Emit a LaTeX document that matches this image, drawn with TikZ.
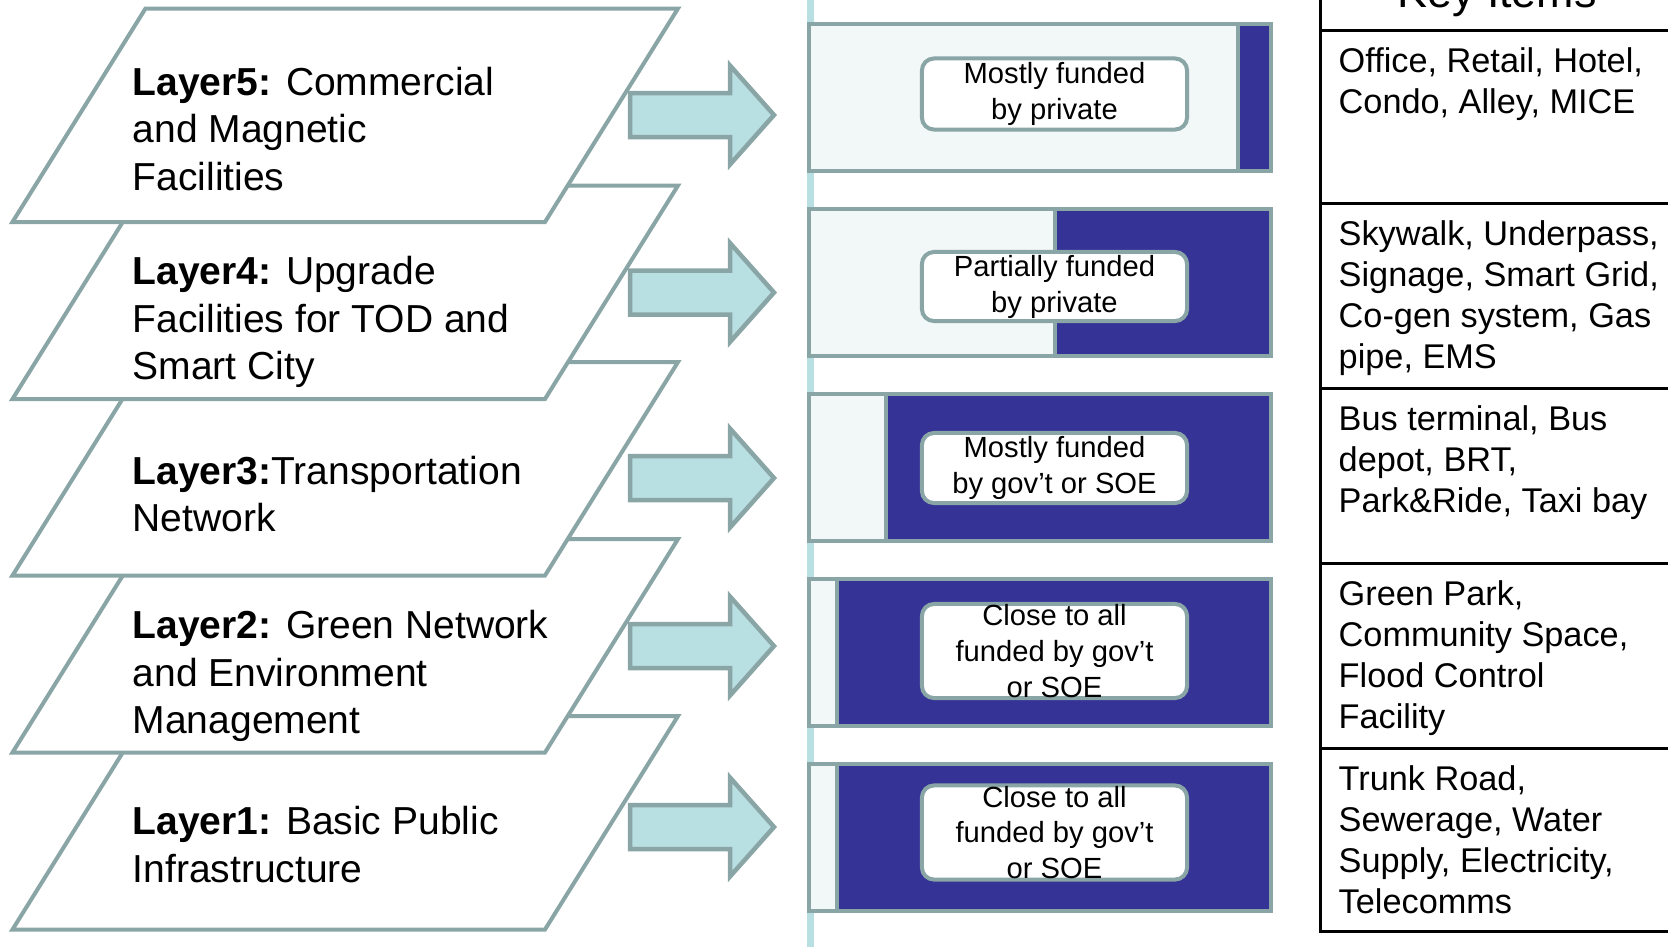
\documentclass[tikz,border=0pt]{standalone}
\usepackage{fontspec}
\setmainfont{Liberation Sans}
\definecolor{edgegray}{RGB}{138,165,166}
\definecolor{arrowcyan}{RGB}{184,223,226}
\definecolor{fundblue}{RGB}{53,51,150}
\definecolor{barpale}{RGB}{241,248,247}

\begin{document}
\begin{tikzpicture}[x=0.01cm,y=-0.01cm,
	layer/.style={draw=edgegray,line width=0.04cm,fill=white},
	layertext/.style={anchor=west,align=left,inner sep=0pt,font=\fontsize{11.1}{13.6}\selectfont},
	flow/.style={draw=edgegray,line width=0.045cm,fill=arrowcyan},
	barbox/.style={draw=edgegray,line width=0.04cm},
	fundlabel/.style={draw=edgegray,line width=0.04cm,fill=white,rounded corners=0.12cm,
		minimum width=2.65cm,inner xsep=0pt,inner ysep=-0.03cm,align=center,
		font=\fontsize{8.3}{10.2}\selectfont},
	itemtext/.style={anchor=north west,align=left,inner sep=0pt,font=\fontsize{9.75}{11.65}\selectfont}]
	\useasboundingbox (0,0) rectangle (1668,947);
	\clip (0,0) rectangle (1668,947);
	\foreach \T in {716,539,362,185.5,8.5}
	\draw[layer] (145.5,\T) -- (678,\T) -- (545,\T+213.5) -- (12.5,\T+213.5) -- cycle;
	\node[layertext] (l5) at (132,129) {\textbf{Layer5:} Commercial\\and Magnetic\\Facilities};
	\node[layertext] (l4) at (132,322) {\textbf{Layer4:} Upgrade\\Facilities for TOD and\\Smart City};
	\node[layertext] (l3) at (132,494) {\textbf{Layer3:}Transportation\\Network};
	\node[layertext] (l2) at (132,676) {\textbf{Layer2:} Green Network\\and Environment\\Management};
	\node[layertext] (l1) at (132,844.5) {\textbf{Layer1:} Basic Public\\Infrastructure};
	\foreach \Y in {115,292.5,478,646,827}
	\draw[flow] (630,\Y-22) -- (730,\Y-22) -- (730,\Y-49.5) -- (774,\Y) -- (730,\Y+49.5)
		-- (730,\Y+22) -- (630,\Y+22) -- cycle;
	\draw[arrowcyan,line width=0.075cm] (810.5,0) -- (810.5,947);
	\foreach \T/\D in {24/1238,209/1055,394/886,579/837,764/837}
	{\draw[barbox,fill=barpale] (809,\T) rectangle (\D,\T+147);
		\draw[barbox,fill=fundblue] (\D,\T) rectangle (1271,\T+147);}
	\node[fundlabel,minimum height=0.71cm] (f5) at (1054.5,94) {Mostly funded\\by private};
	\node[fundlabel,minimum height=0.69cm] (f4) at (1054.5,286.5) {Partially funded\\by private};
	\node[fundlabel,minimum height=0.70cm] (f3) at (1054.5,468) {Mostly funded\\by gov’t or SOE};
	\node[fundlabel,minimum height=0.94cm] (f2) at (1054.5,651) {Close to all\\funded by gov’t\\or SOE};
	\node[fundlabel,minimum height=0.94cm] (f1) at (1054.5,832.5) {Close to all\\funded by gov’t\\or SOE};
	\draw[line width=0.03cm] (1320,0) -- (1320,931) -- (1668,931);
	\foreach \Y in {30,203,388,563,748}
	\draw[line width=0.03cm] (1320,\Y) -- (1668,\Y);
	\node[anchor=base,inner sep=0pt,font=\fontsize{12.75}{15}\selectfont] (keyhead) at (1497,7) {Key Items};
	\node[itemtext] (k5) at (1338,47) {Office, Retail, Hotel,\\Condo, Alley, MICE};
	\node[itemtext] (k4) at (1338,220) {Skywalk, Underpass,\\Signage, Smart Grid,\\Co-gen system, Gas\\pipe, EMS};
	\node[itemtext] (k3) at (1338,405) {Bus terminal, Bus\\depot, BRT,\\Park\&Ride, Taxi bay};
	\node[itemtext] (k2) at (1338,580) {Green Park,\\Community Space,\\Flood Control\\Facility};
	\node[itemtext] (k1) at (1338,765) {Trunk Road,\\Sewerage, Water\\Supply, Electricity,\\Telecomms};
\end{tikzpicture}
\end{document}
